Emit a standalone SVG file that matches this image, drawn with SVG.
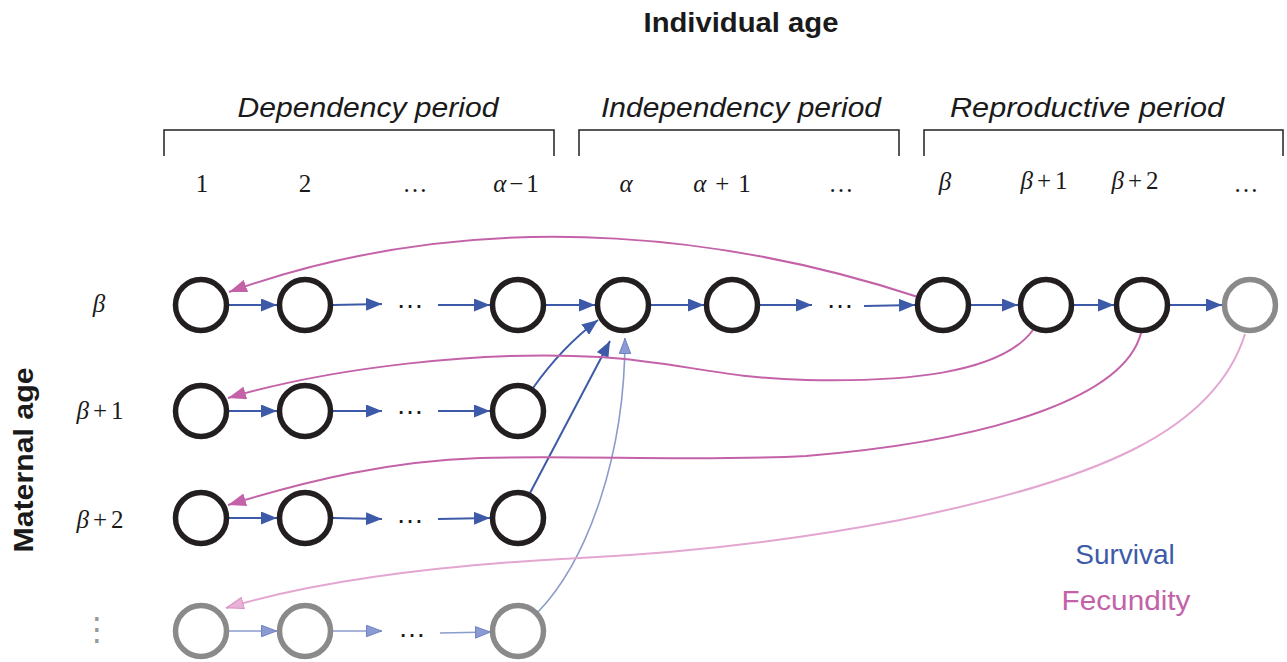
<svg xmlns="http://www.w3.org/2000/svg" width="1287" height="662" viewBox="0 0 1287 662">
<style>
.n{fill:none;stroke:#231f20;stroke-width:5.5}
.g{fill:none;stroke:#8a8a8a;stroke-width:5.5}
.s{fill:none;stroke:#3d5aa9;stroke-width:2}
.sf{fill:none;stroke:#3d5aa9;stroke-width:1.6;stroke-opacity:0.6}
.f{fill:none;stroke:#c462a8;stroke-width:2}
.ff{fill:none;stroke:#e3a6d1;stroke-width:2}
.hd{font-family:"Liberation Sans",Arial,sans-serif;font-weight:bold;font-size:28px;fill:#1a1a1a}
.pd{font-family:"Liberation Sans",Arial,sans-serif;font-style:italic;font-size:27px;fill:#1a1a1a}
.m{font-family:"Liberation Serif","Times New Roman",serif;font-size:25px;fill:#1a1a1a}
.i{font-style:italic}
.dots{font-family:"Liberation Sans",Arial,sans-serif;font-size:28px;fill:#1a1a1a}
.br{fill:none;stroke:#231f20;stroke-width:1.5}
.lg{font-family:"Liberation Sans",Arial,sans-serif;font-size:28px}
</style>
<defs>
<marker id="ab" viewBox="0 0 16 13" refX="16" refY="6.5" markerWidth="16" markerHeight="13" markerUnits="userSpaceOnUse" orient="auto"><path d="M0 0 L16 6.5 L0 13 z" fill="#3d5aa9"/></marker>
<marker id="abf" viewBox="0 0 16 13" refX="16" refY="6.5" markerWidth="16" markerHeight="13" markerUnits="userSpaceOnUse" orient="auto"><path d="M0.5 0.8 L15.5 6.5 L0.5 12.2 z" fill="#8b9ad2" stroke="#6f82c4" stroke-width="1"/></marker>
<marker id="ap" viewBox="0 0 18 13" refX="18" refY="6.5" markerWidth="18" markerHeight="13" markerUnits="userSpaceOnUse" orient="auto"><path d="M0 0 L18 6.5 L0 13 z" fill="#c462a8"/></marker>
<marker id="apf" viewBox="0 0 18 13" refX="18" refY="6.5" markerWidth="18" markerHeight="13" markerUnits="userSpaceOnUse" orient="auto"><path d="M0.5 0.8 L17.5 6.5 L0.5 12.2 z" fill="#e8b3d9" stroke="#d98fc4" stroke-width="1"/></marker>
</defs>

<text class="hd" x="741" y="32" text-anchor="middle" textLength="195" lengthAdjust="spacingAndGlyphs">Individual age</text>
<text class="hd" transform="translate(33,460) rotate(-90)" text-anchor="middle" font-size="29" textLength="185" lengthAdjust="spacingAndGlyphs">Maternal age</text>

<text class="pd" x="368" y="117" text-anchor="middle" textLength="261" lengthAdjust="spacingAndGlyphs">Dependency period</text>
<text class="pd" x="741" y="117" text-anchor="middle" textLength="280" lengthAdjust="spacingAndGlyphs">Independency period</text>
<text class="pd" x="1087" y="117" text-anchor="middle" textLength="274" lengthAdjust="spacingAndGlyphs">Reproductive period</text>

<path class="br" d="M164 156 V130 H554 V156"/>
<path class="br" d="M579 156 V130 H899 V156"/>
<path class="br" d="M924 156 V130 H1283 V156"/>

<g id="col-labels">
<text class="m" x="202" y="192" text-anchor="middle">1</text>
<text class="m" x="305" y="192" text-anchor="middle">2</text>
<text class="m" x="415" y="192" text-anchor="middle">…</text>
<text class="m" x="516" y="192" text-anchor="middle"><tspan class="i">α</tspan><tspan dx="3">−</tspan><tspan dx="3">1</tspan></text>
<text class="m i" x="626" y="192" text-anchor="middle">α</text>
<text class="m" x="722" y="192" text-anchor="middle"><tspan class="i">α</tspan><tspan dx="9">+</tspan><tspan dx="9">1</tspan></text>
<text class="m" x="841" y="192" text-anchor="middle">…</text>
<text class="m i" x="945" y="190" text-anchor="middle">β</text>
<text class="m" x="1044" y="189" text-anchor="middle"><tspan class="i">β</tspan><tspan dx="4">+</tspan><tspan dx="4">1</tspan></text>
<text class="m" x="1135" y="189" text-anchor="middle"><tspan class="i">β</tspan><tspan dx="4">+</tspan><tspan dx="4">2</tspan></text>
<text class="m" x="1246" y="192" text-anchor="middle" fill="#999">…</text>
</g>

<g id="row-labels">
<text class="m i" x="99" y="312" text-anchor="middle" font-size="26">β</text>
<text class="m" x="100" y="419" text-anchor="middle" font-size="26"><tspan class="i">β</tspan><tspan dx="4">+</tspan><tspan dx="4">1</tspan></text>
<text class="m" x="100" y="528" text-anchor="middle" font-size="26"><tspan class="i">β</tspan><tspan dx="4">+</tspan><tspan dx="4">2</tspan></text>
<text x="97" y="640" text-anchor="middle" font-family="DejaVu Sans,sans-serif" font-size="32" fill="#999">⋮</text>
</g>

<g id="connectors">
<line class="s" x1="229" y1="305" x2="277" y2="305" marker-end="url(#ab)"/>
<line class="s" x1="333" y1="305" x2="382" y2="304" marker-end="url(#ab)"/>
<line class="s" x1="438" y1="305" x2="490" y2="305" marker-end="url(#ab)"/>
<line class="s" x1="546" y1="305" x2="595" y2="305" marker-end="url(#ab)"/>
<line class="s" x1="651" y1="305" x2="704" y2="305" marker-end="url(#ab)"/>
<line class="s" x1="760" y1="305" x2="812" y2="305" marker-end="url(#ab)"/>
<line class="s" x1="864" y1="306" x2="915" y2="305" marker-end="url(#ab)"/>
<line class="s" x1="971" y1="305" x2="1018" y2="305" marker-end="url(#ab)"/>
<line class="s" x1="1074" y1="305" x2="1114" y2="305" marker-end="url(#ab)"/>
<line class="s" x1="1170" y1="305" x2="1222" y2="305" marker-end="url(#ab)"/>
<line class="s" x1="229" y1="411" x2="277" y2="411" marker-end="url(#ab)"/>
<line class="s" x1="333" y1="411" x2="382" y2="411" marker-end="url(#ab)"/>
<line class="s" x1="438" y1="411" x2="490" y2="411" marker-end="url(#ab)"/>
<line class="s" x1="229" y1="518" x2="277" y2="518" marker-end="url(#ab)"/>
<line class="s" x1="333" y1="518" x2="382" y2="519" marker-end="url(#ab)"/>
<line class="s" x1="438" y1="519" x2="490" y2="518" marker-end="url(#ab)"/>
<line class="sf" x1="229" y1="631" x2="277" y2="631" marker-end="url(#abf)"/>
<line class="sf" x1="333" y1="631" x2="382" y2="631" marker-end="url(#abf)"/>
<line class="sf" x1="440" y1="633" x2="491" y2="632" marker-end="url(#abf)"/>
<path class="s" d="M533 388 Q562 347 598 320" marker-end="url(#ab)"/>
<path class="s" d="M530 493 Q573 412 610 341" marker-end="url(#ab)"/>
<path class="sf" d="M538 612 C588 560 625 455 625 338" marker-end="url(#abf)"/>
<path class="f" d="M918 297 C760 245 500 195 229 292" marker-end="url(#ap)"/>
<path class="f" d="M1033 330 C1000 375 900 382 806 380 C720 378 680 362 600 357 C480 350 330 368 228 398" marker-end="url(#ap)"/>
<path class="f" d="M1141 333 C1125 395 1000 440 806 456 C690 462 590 455 480 458 C390 461 310 480 228 505" marker-end="url(#ap)"/>
<path class="ff" d="M1245 334 C1215 430 1100 480 900 520 C780 543 680 553 580 558 C440 565 320 580 226 608" marker-end="url(#apf)"/>
</g>

<g id="gaps">
<text class="dots" x="410" y="308" text-anchor="middle">…</text>
<text class="dots" x="840" y="308" text-anchor="middle">…</text>
<text class="dots" x="410" y="414" text-anchor="middle">…</text>
<text class="dots" x="410" y="523" text-anchor="middle">…</text>
<text class="dots" x="412" y="637" text-anchor="middle">…</text>
</g>

<g id="n-b-1"><circle class="n" cx="201" cy="305" r="25.5"/></g>
<g id="n-b-2"><circle class="n" cx="305" cy="305" r="25.5"/></g>
<g id="n-b-am1"><circle class="n" cx="518" cy="305" r="25.5"/></g>
<g id="n-b-a"><circle class="n" cx="623" cy="305" r="25.5"/></g>
<g id="n-b-a1"><circle class="n" cx="732" cy="305" r="25.5"/></g>
<g id="n-b-b"><circle class="n" cx="943" cy="305" r="25.5"/></g>
<g id="n-b-b1"><circle class="n" cx="1046" cy="305" r="25.5"/></g>
<g id="n-b-b2"><circle class="n" cx="1142" cy="305" r="25.5"/></g>
<g id="n-b-more"><circle class="g" cx="1250" cy="305" r="25.5"/></g>

<g id="n-b1-1"><circle class="n" cx="201" cy="411" r="25.5"/></g>
<g id="n-b1-2"><circle class="n" cx="305" cy="411" r="25.5"/></g>
<g id="n-b1-am1"><circle class="n" cx="518" cy="411" r="25.5"/></g>

<g id="n-b2-1"><circle class="n" cx="201" cy="518" r="25.5"/></g>
<g id="n-b2-2"><circle class="n" cx="305" cy="518" r="25.5"/></g>
<g id="n-b2-am1"><circle class="n" cx="518" cy="518" r="25.5"/></g>

<g id="n-more-1"><circle class="g" cx="201" cy="631" r="25.5"/></g>
<g id="n-more-2"><circle class="g" cx="305" cy="631" r="25.5"/></g>
<g id="n-more-am1"><circle class="g" cx="518" cy="631" r="25.5"/></g>

<text class="lg" x="1125" y="564" text-anchor="middle" fill="#3d5aa9">Survival</text>
<text class="lg" x="1126" y="610" text-anchor="middle" fill="#c462a8" textLength="129" lengthAdjust="spacingAndGlyphs">Fecundity</text>
</svg>
